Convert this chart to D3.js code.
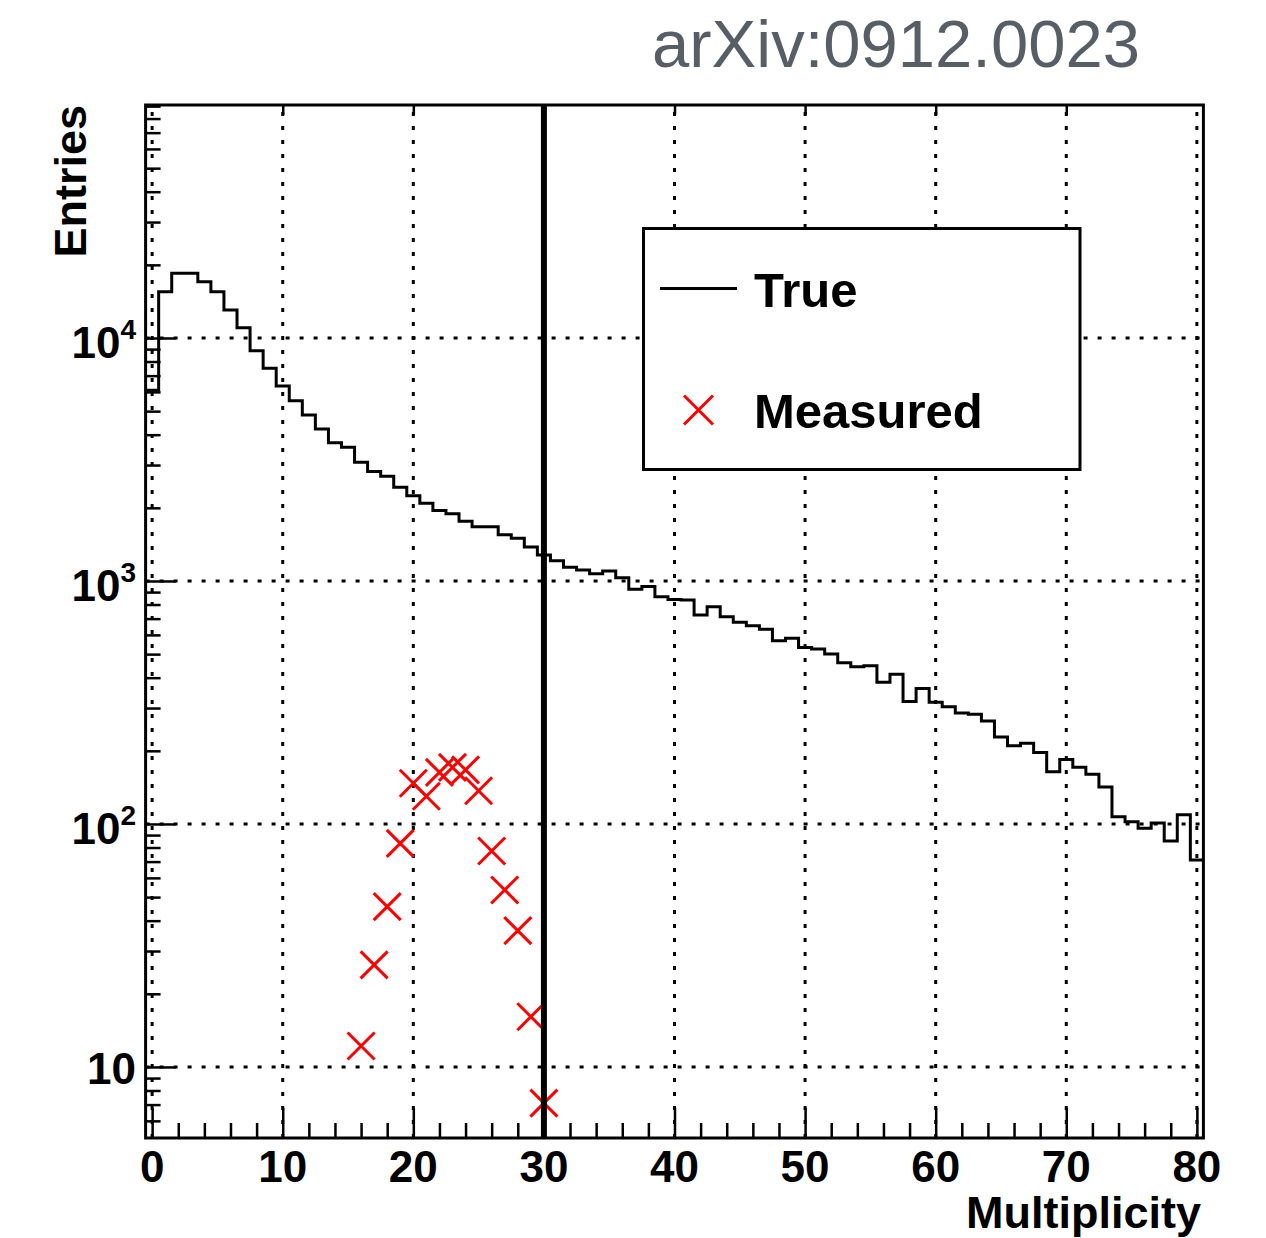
<!DOCTYPE html>
<html>
<head>
<meta charset="utf-8">
<script src="https://cdn.jsdelivr.net/npm/d3@7/dist/d3.min.js"></script>
<style>
  html, body { margin: 0; padding: 0; background: #fff; }
  svg { display: block; }
  text { font-family: "Liberation Sans", Arial, Helvetica, sans-serif; }
</style>
</head>
<body>
<svg id="chart" width="1266" height="1238"></svg>
<script>
// True multiplicity distribution: entries per unit-width bin, bins centred on 0..80
const trueCounts = [
  6100, 15500, 18450, 18450, 17060, 15500, 13040, 11030, 8870, 7500,
  6340, 5520, 4820, 4220, 3710, 3550, 3080, 2820, 2700, 2430,
  2240, 2090, 1950, 1890, 1760, 1670, 1670, 1550, 1500, 1380,
  1280, 1210, 1140, 1110, 1070, 1100, 1030, 925, 950, 861,
  840, 835, 725, 783, 713, 676, 655, 633, 568, 581,
  533, 525, 501, 461, 444, 448, 383, 413, 319, 361,
  317, 304, 286, 283, 265, 228, 210, 215, 197, 164,
  184, 171, 160, 142, 107, 102, 96, 101, 85, 109,
  71
];

// Measured multiplicity distribution (markers)
const measuredMultiplicity = [16, 17, 18, 19, 20, 21, 22, 23, 24, 25, 26, 27, 28, 29, 30];
const measuredCounts = [12.2, 26.3, 45.7, 83.2, 147, 130, 163, 171, 167, 137, 77.4, 53.5, 36.4, 16.1, 7.1];

// Multiplicity cut marked by the vertical line
const cutValue = [30];

// Axis ticks and labels
const xMajorTicks = [0, 10, 20, 30, 40, 50, 60, 70, 80];
const xTopTicks = [10, 20, 30, 40, 50, 60, 70];
const yMajorTicks = [10, 100, 1000, 10000];
const yTickExponents = ["", "2", "3", "4"];

const titleText = "arXiv:0912.0023";
const xTitle = "Multiplicity";
const yTitle = "Entries";
const legendLabels = ["True", "Measured"];

const svg = d3.select("#chart");

const frame = { left: 145.6, right: 1203.4, top: 105, bottom: 1138 };

const x = d3.scaleLinear().domain([-0.5, 80.5]).range([frame.left, frame.right]);
const y = d3.scaleLog().domain([5.10, 90970]).range([frame.bottom, frame.top]);

// Grid (dotted) under everything else
const grid = svg.append("g")
  .attr("stroke", "#000").attr("stroke-width", 3).attr("stroke-dasharray", "4,10");
grid.selectAll("line.gx").data(xMajorTicks).join("line")
  .attr("class", "gx")
  .attr("x1", d => x(d)).attr("x2", d => x(d))
  .attr("y1", frame.bottom).attr("y2", frame.top);
grid.selectAll("line.gy").data(yMajorTicks).join("line")
  .attr("class", "gy")
  .attr("x1", frame.left).attr("x2", frame.right)
  .attr("y1", d => y(d)).attr("y2", d => y(d));

// Axes: ticks pointing into the frame
const xMinorTicks = d3.range(0, 81, 2).filter(v => v % 10 !== 0);
function styleAxis(g) {
  g.select(".domain").remove();
  g.selectAll(".tick line").attr("stroke", "#000").attr("stroke-width", 2.5);
  g.selectAll(".tick text").remove();
}
svg.append("g").attr("transform", `translate(0,${frame.bottom})`)
  .call(d3.axisBottom(x).tickValues(xMajorTicks).tickSize(-30)).call(styleAxis);
svg.append("g").attr("transform", `translate(0,${frame.bottom})`)
  .call(d3.axisBottom(x).tickValues(xMinorTicks).tickSize(-15)).call(styleAxis);
svg.append("g").attr("transform", `translate(0,${frame.top})`)
  .call(d3.axisTop(x).tickValues(xTopTicks).tickSize(-10)).call(styleAxis);

const yMinorTicks = [];
for (let e = 0; e <= 4; e++) {
  for (let m = 2; m <= 9; m++) {
    const v = m * Math.pow(10, e);
    if (v >= 5.10 && v <= 90970) yMinorTicks.push(v);
  }
}
svg.append("g").attr("transform", `translate(${frame.left},0)`)
  .call(d3.axisLeft(y).tickValues(yMajorTicks).tickSize(-30)).call(styleAxis);
svg.append("g").attr("transform", `translate(${frame.left},0)`)
  .call(d3.axisLeft(y).tickValues(yMinorTicks).tickSize(-15)).call(styleAxis);

// X tick labels
svg.append("g").selectAll("text").data(xMajorTicks).join("text")
  .attr("x", d => x(d)).attr("y", 1182)
  .attr("text-anchor", "middle")
  .attr("font-size", 44).attr("font-weight", "bold")
  .text(d => d);

// Y tick labels, powers of ten
const yl = svg.append("g").selectAll("text").data(yMajorTicks).join("text")
  .attr("x", 136)
  .attr("y", (d, i) => y(d) + (yTickExponents[i] ? 20 : 17))
  .attr("text-anchor", "end")
  .attr("font-size", 44).attr("font-weight", "bold");
yl.append("tspan").text("10");
yl.filter((d, i) => yTickExponents[i] !== "")
  .append("tspan")
  .attr("font-size", 28).attr("dy", -19)
  .text((d) => yTickExponents[yMajorTicks.indexOf(d)]);

// Histogram of the true distribution as a step outline
const edgePoints = trueCounts.map((c, i) => [i - 0.5, c]);
edgePoints.push([trueCounts.length - 0.5, trueCounts[trueCounts.length - 1]]);
const stepLine = d3.line()
  .x(d => x(d[0])).y(d => y(d[1]))
  .curve(d3.curveStepAfter);
svg.append("path")
  .datum(edgePoints)
  .attr("d", stepLine)
  .attr("fill", "none").attr("stroke", "#000").attr("stroke-width", 3)
  .attr("stroke-linejoin", "miter");

// Measured points as red crosses
const cross = 13.5;
const markers = svg.append("g").attr("stroke", "#ff0000").attr("stroke-width", 3);
measuredCounts.forEach((c, i) => {
  const cx = x(measuredMultiplicity[i]), cy = y(c);
  markers.append("path")
    .attr("d", `M${cx - cross},${cy - cross}L${cx + cross},${cy + cross}M${cx - cross},${cy + cross}L${cx + cross},${cy - cross}`);
});

// Vertical cut line
svg.append("g").selectAll("line").data(cutValue).join("line")
  .attr("x1", d => x(d)).attr("x2", d => x(d))
  .attr("y1", frame.bottom).attr("y2", frame.top)
  .attr("stroke", "#000").attr("stroke-width", 6);

// Frame
svg.append("rect")
  .attr("x", frame.left).attr("y", frame.top)
  .attr("width", frame.right - frame.left).attr("height", frame.bottom - frame.top)
  .attr("fill", "none").attr("stroke", "#000").attr("stroke-width", 3);

// Axis titles
svg.append("text")
  .attr("x", 1201).attr("y", 1228)
  .attr("text-anchor", "end")
  .attr("font-size", 45).attr("font-weight", "bold")
  .text(xTitle);
svg.append("text")
  .attr("transform", `translate(86,${frame.top}) rotate(-90)`)
  .attr("text-anchor", "end")
  .attr("font-size", 45).attr("font-weight", "bold")
  .text(yTitle);

// Legend
const legend = svg.append("g");
legend.append("rect")
  .attr("x", 643.5).attr("y", 228.5).attr("width", 436.5).attr("height", 241)
  .attr("fill", "#fff").attr("stroke", "#000").attr("stroke-width", 3);
legend.append("line")
  .attr("x1", 660).attr("x2", 737).attr("y1", 288.5).attr("y2", 288.5)
  .attr("stroke", "#000").attr("stroke-width", 3);
const lx = 698.5, ly = 410, lc = 14.5;
legend.append("path")
  .attr("d", `M${lx - lc},${ly - lc}L${lx + lc},${ly + lc}M${lx - lc},${ly + lc}L${lx + lc},${ly - lc}`)
  .attr("stroke", "#ff0000").attr("stroke-width", 3);
legend.selectAll("text").data(legendLabels).join("text")
  .attr("x", 754).attr("y", (d, i) => i === 0 ? 307 : 428)
  .attr("font-size", 49).attr("font-weight", "bold")
  .text(d => d);

// Title
svg.append("text")
  .attr("x", 1140).attr("y", 67)
  .attr("text-anchor", "end")
  .attr("font-size", 67)
  .attr("fill", "#585e66")
  .text(titleText);
</script>
</body>
</html>
